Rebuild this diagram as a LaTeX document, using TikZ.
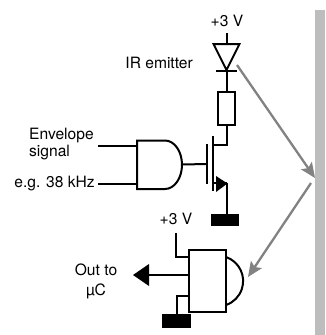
\documentclass[tikz,border=0pt]{standalone}
\usepackage{fontspec}
\setmainfont{TeX Gyre Heros}
\usetikzlibrary{arrows.meta}
\tikzset{
  wire/.style={line width=2pt},
  label/.style={font=\fontsize{15.6}{17}\selectfont, align=center, inner sep=0pt},
  beam/.style={line width=2.3pt, draw=irgray, -{Stealth[length=15pt, width=13pt, inset=3pt]}},
  earth/.style={fill=black, draw=none, rectangle, inner sep=0pt},
}
\definecolor{irgray}{RGB}{130,130,130}
\definecolor{wallgray}{RGB}{189,189,189}
\begin{document}
\begin{tikzpicture}[x=1pt, y=-1pt]
      \useasboundingbox (0, 0) rectangle (325, 335);
      % wall
      \fill[wallgray] (315, 10) rectangle (325, 335);
      % emitter branch
      \node[label] (vcctop) at (227, 21) {+3 V};
      \node[label, anchor=east] (emitterlabel) at (193, 63) {IR emitter};
      \coordinate (diodetop) at (226.5, 43);
      \coordinate (diodetip) at (226.5, 70);
      \draw[wire, line join=miter] (213.5, 44) -- (239.5, 44) -- (diodetip) -- cycle;
      \draw[wire] (216, 71) -- (237, 71);
      \draw[wire] (226.5, 33) -- (diodetop);
      \node[wire, draw, rectangle, minimum width=17pt, minimum height=33pt, inner sep=0pt] (resistor) at (226.5, 108.5) {};
      \draw[wire] (diodetip) -- (resistor.north);
      \coordinate (drain) at (212.5, 145);
      \draw[wire] (resistor.south) |- (drain);
      % mosfet
      \draw[wire] (212.5, 136) -- (212.5, 191);
      \draw[wire] (207, 144) -- (207, 184);
      \coordinate (gate) at (207, 164);
      \coordinate (source) at (226.5, 183);
      \draw[wire] (212.5, 183) -- (source);
      \fill (216, 176) -- (227.5, 183.5) -- (216, 192) -- cycle;
      \node[earth, minimum width=28pt, minimum height=12pt] (grounda) at (225, 220) {};
      \draw[wire] (source) -- (source |- grounda.north);
      % and gate
      \coordinate (andtip) at (182, 164.5);
      \coordinate (ina) at (137, 146);
      \coordinate (inb) at (137, 184);
      \draw[wire] (137, 140.5) -- (165, 140.5) arc[start angle=-90, end angle=90, x radius=17, y radius=24.25] -- (137, 189) -- cycle;
      \draw[wire] (andtip) -- (gate);
      \node[label, align=left, anchor=west] (envelope) at (29, 144.5) {Envelope\\signal};
      \node[label, anchor=east] (carrier) at (95, 184) {e.g. 38 kHz};
      \coordinate (enda) at (98, 146);
      \coordinate (endb) at (98, 184);
      \draw[wire] (enda) -- (ina);
      \draw[wire] (endb) -- (inb);
      % receiver
      \node[wire, draw, rectangle, minimum width=37pt, minimum height=62pt, inner sep=0pt] (receiver) at (207.5, 281) {};
      \draw[wire] (226, 257) arc[start angle=-71, end angle=71, radius=25.4];
      \node[label] (vccbottom) at (176, 219) {+3 V};
      \coordinate (vccend) at (176, 233);
      \draw[wire] (vccend) |- (189, 257);
      \coordinate (outtip) at (133, 275);
      \draw[wire] (189, 275) -- (148, 275);
      \fill (outtip) -- (149, 264) -- (149, 286) -- cycle;
      \node[label] (outlabel) at (96, 281) {Out to\\[3pt]µC};
      \node[earth, minimum width=29pt, minimum height=14pt] (groundb) at (176.5, 321) {};
      \draw[wire] (189, 296) -| (groundb.north);
      % beams
      \coordinate (beamstart) at (237, 65);
      \coordinate (beamend) at (315, 178);
      \coordinate (backstart) at (311, 183);
      \coordinate (backend) at (248, 277);
      \draw[beam] (beamstart) -- (beamend);
      \draw[beam] (backstart) -- (backend);
    \end{tikzpicture}
\end{document}
